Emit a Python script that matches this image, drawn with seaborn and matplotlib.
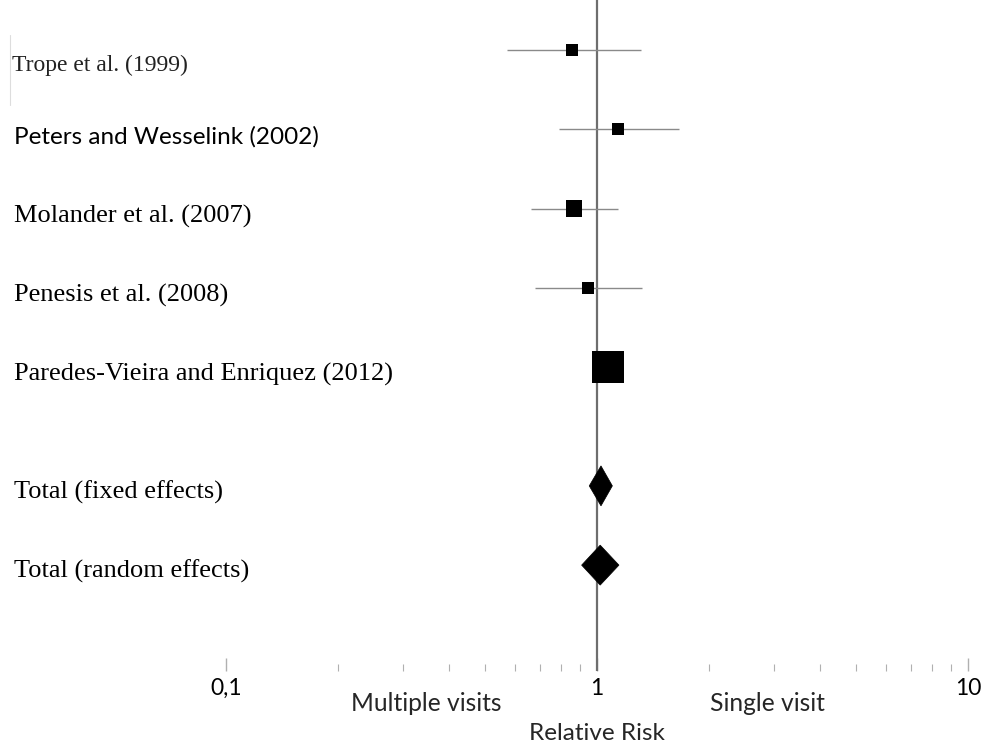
import numpy as np
import pandas as pd
import matplotlib
matplotlib.use("Agg")
import matplotlib.pyplot as plt
from matplotlib.transforms import blended_transform_factory
from matplotlib.lines import Line2D
from matplotlib.patches import Polygon
import seaborn as sns

# ---- data ----
studies = ["Trope et al. (1999)", "Peters and Wesselink (2002)", "Molander et al. (2007)",
           "Penesis et al. (2008)", "Paredes-Vieira and Enriquez (2012)"]
rr = [0.855, 1.14, 0.865, 0.947, 1.07]
ci_low = [0.571, 0.79, 0.664, 0.68, 0.98]
ci_high = [1.312, 1.66, 1.137, 1.325, 1.16]
weights = [8.4, 8.4, 15.0, 8.4, 59.8]

pooled = ["Total (fixed effects)", "Total (random effects)"]
pooled_rr = [1.025, 1.02]
pooled_low = [0.953, 0.909]
pooled_high = [1.10, 1.146]

tick_values = [0.1, 1, 10]
tick_labels = ["0,1", "1", "10"]

study_rows = [0, 1, 2, 3, 4]
pooled_rows = [5.5, 6.5]

df = pd.DataFrame({"study": studies, "rr": rr, "lo": ci_low, "hi": ci_high,
                   "w": weights, "row": study_rows})

# ---- figure ----
sns.set_theme(style="white")
W, H = 983, 747
fig = plt.figure(figsize=(W / 100, H / 100), dpi=100)
ax_left, ax_right = 226 / W, 968 / W
ax_top_px, ax_bot_px = 0, 671
ax = fig.add_axes([ax_left, (H - ax_bot_px) / H, ax_right - ax_left, (ax_bot_px - ax_top_px) / H])

row_px = 79.25
first_px = 50
ax.set_xscale("log")
ax.set_xlim(0.1, 10)
ax.set_ylim((ax_bot_px - first_px) / row_px, (ax_top_px - first_px) / row_px)

# reference line at 1
ax.axvline(1, color="#6e6e6e", lw=1.6, zorder=1)

# CI lines
ax.hlines(df["row"], df["lo"], df["hi"], color="#8a8a8a", lw=1.0, zorder=2)

# squares sized by weight
sizes = {s: w * 8.88 for s, w in zip(studies, weights)}
sns.scatterplot(data=df, x="rr", y="row", size="study", sizes=sizes, marker="s",
                color="black", linewidth=0, legend=False, ax=ax, zorder=3)

# diamonds for pooled estimates
half_h = 20 / row_px
for r, lo, est, hi in zip(pooled_rows, pooled_low, pooled_rr, pooled_high):
    poly = Polygon([(lo, r), (est, r - half_h), (hi, r), (est, r + half_h)],
                   closed=True, facecolor="black", edgecolor="black", lw=0.5, zorder=3)
    ax.add_patch(poly)

# axes styling
for sp in ax.spines.values():
    sp.set_visible(False)
ax.set_xlabel("")
ax.set_ylabel("")
ax.set_yticks([])
ax.set_xticks(tick_values)
ax.set_xticklabels(tick_labels)
ax.xaxis.set_minor_locator(matplotlib.ticker.LogLocator(base=10, subs=np.arange(2, 10)))
ax.xaxis.set_minor_formatter(matplotlib.ticker.NullFormatter())
ax.tick_params(axis="x", which="major", direction="in", length=9.4, width=1.0,
               color="#b0b0b0", pad=5, labelsize=16.5, bottom=True)
ax.tick_params(axis="x", which="minor", direction="in", length=5, width=0.8,
               color="#b0b0b0", bottom=True)
for lab in ax.get_xticklabels():
    lab.set_fontfamily("Lato")
    lab.set_color("black")

# row labels
trans = blended_transform_factory(fig.transFigure, ax.transData)
label_off = 0.1
ax.text(12 / W, study_rows[0] + 0.2, studies[0], transform=trans, va="center", ha="left",
        fontsize=17, family="Liberation Serif", color="#222222")
ax.text(14 / W, study_rows[1] + label_off, studies[1], transform=trans, va="center", ha="left",
        fontsize=17.5, family="Lato", color="black")
for s, r in zip(studies[2:], study_rows[2:]):
    ax.text(14 / W, r + label_off, s, transform=trans, va="center", ha="left",
            fontsize=19, family="Liberation Serif", color="black")
for s, r in zip(pooled, pooled_rows):
    ax.text(14 / W, r + 0.08, s, transform=trans, va="center", ha="left",
            fontsize=19, family="Liberation Serif", color="black")

# bottom annotations
ax.text(0.27, -0.048, "Multiple visits", transform=ax.transAxes, ha="center", va="center",
        fontsize=17.7, family="Lato")
ax.text(0.73, -0.048, "Single visit", transform=ax.transAxes, ha="center", va="center",
        fontsize=17.7, family="Lato")
ax.text(0.5, -0.093, "Relative Risk", transform=ax.transAxes, ha="center", va="center",
        fontsize=17.5, family="Lato")

# faint margin line
fig.add_artist(Line2D([10 / W, 10 / W], [1 - 35 / H, 1 - 105 / H], color="#dddddd", lw=0.8))

fig.savefig("out.png", dpi=100, facecolor="white")
